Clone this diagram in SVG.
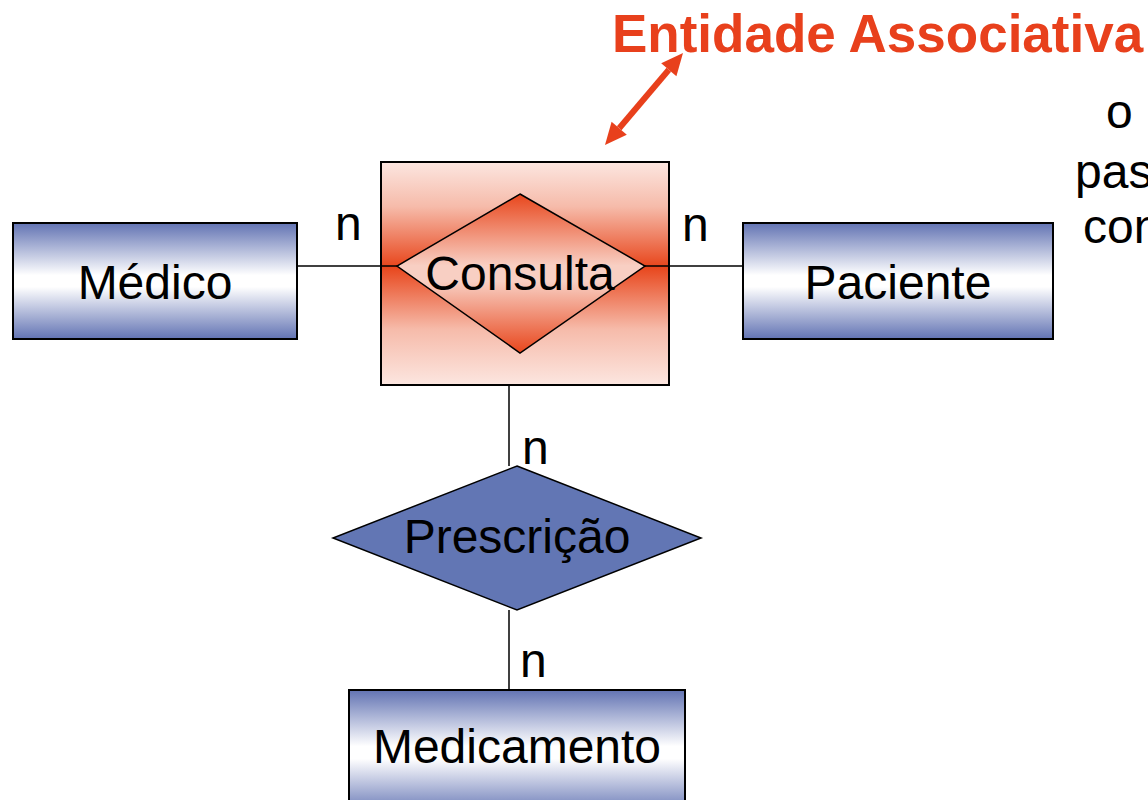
<svg xmlns="http://www.w3.org/2000/svg" width="1148" height="800" viewBox="0 0 1148 800">
<defs>
<linearGradient id="gBlue" x1="0" y1="0" x2="0" y2="1">
<stop offset="0" stop-color="#6273B3"/>
<stop offset="0.45" stop-color="#FFFFFF"/>
<stop offset="0.55" stop-color="#FFFFFF"/>
<stop offset="1" stop-color="#6273B3"/>
</linearGradient>
<linearGradient id="gBox" x1="0" y1="0" x2="0" y2="1">
<stop offset="0" stop-color="#FCE6E0"/>
<stop offset="0.2" stop-color="#F6BBAA"/>
<stop offset="0.47" stop-color="#E8461C"/>
<stop offset="0.75" stop-color="#F6BBAA"/>
<stop offset="1" stop-color="#FCE6E0"/>
</linearGradient>
<linearGradient id="gDia" x1="0" y1="0" x2="0" y2="1">
<stop offset="0" stop-color="#E8461C"/>
<stop offset="0.45" stop-color="#F8CFC3"/>
<stop offset="0.55" stop-color="#F8CFC3"/>
<stop offset="1" stop-color="#E8461C"/>
</linearGradient>
</defs>
<style>
.lbl{font-family:"Comic Sans MS","Liberation Sans",sans-serif;font-size:48px;fill:#000;text-anchor:middle}
.n{font-family:"Comic Sans MS","Liberation Sans",sans-serif;font-size:48px;fill:#000}
.ent{fill:url(#gBlue);stroke:#000;stroke-width:2}
.ln{stroke:#000;stroke-width:1.5;fill:none}
.side{font-family:"Comic Sans MS","Liberation Sans",sans-serif;font-size:48px;fill:#000}
.red{fill:#E8401C}
</style>
<rect width="1148" height="800" fill="#fff"/>
<g id="medico">
<rect class="ent" x="13" y="223" width="284" height="116"/>
<text class="lbl" x="155" y="299">Médico</text>
</g>
<g id="consulta">
<rect x="381" y="162" width="288" height="223" fill="url(#gBox)" stroke="#000" stroke-width="2"/>
<polygon points="520,194 645,266 520,353 397,266" fill="url(#gDia)" stroke="#000" stroke-width="1.5"/>
<text class="lbl" x="520" y="290">Consulta</text>
</g>
<g id="paciente">
<rect class="ent" x="743" y="223" width="310" height="116"/>
<text class="lbl" x="898" y="299">Paciente</text>
</g>
<g id="prescricao">
<polygon points="517,466 701,538 517,610 333,538" fill="#6276B4" stroke="#000" stroke-width="1.5"/>
<text class="lbl" x="517" y="553">Prescrição</text>
</g>
<g id="medicamento">
<rect class="ent" x="349" y="690" width="336" height="125"/>
<text class="lbl" x="517" y="763">Medicamento</text>
</g>
<g id="connectors">
<line class="ln" x1="297" y1="266" x2="397" y2="266"/>
<line class="ln" x1="645" y1="266" x2="743" y2="266"/>
<line class="ln" x1="509" y1="385" x2="509" y2="466"/>
<line class="ln" x1="509" y1="610" x2="509" y2="690"/>
</g>
<g id="cardinalities">
<text class="n" x="335" y="240">n</text>
<text class="n" x="682" y="241">n</text>
<text class="n" x="522" y="464">n</text>
<text class="n" x="520" y="677">n</text>
</g>
<g id="annotation">
<text x="612" y="52" font-family="'Comic Sans MS','Liberation Sans',sans-serif" font-weight="bold" font-size="53" class="red">Entidade Associativa</text>
<line x1="619.2" y1="128.2" x2="668.8" y2="69.8" stroke="#E8401C" stroke-width="6"/>
<polygon class="red" points="683,53 676.4,76.3 661.2,63.3"/>
<polygon class="red" points="605,145 626.8,134.7 611.6,121.7"/>
<text class="side" x="1106" y="128">o m</text>
<text class="side" x="1075" y="188">pas</text>
<text class="side" x="1083" y="243">con</text>
</g>
</svg>
